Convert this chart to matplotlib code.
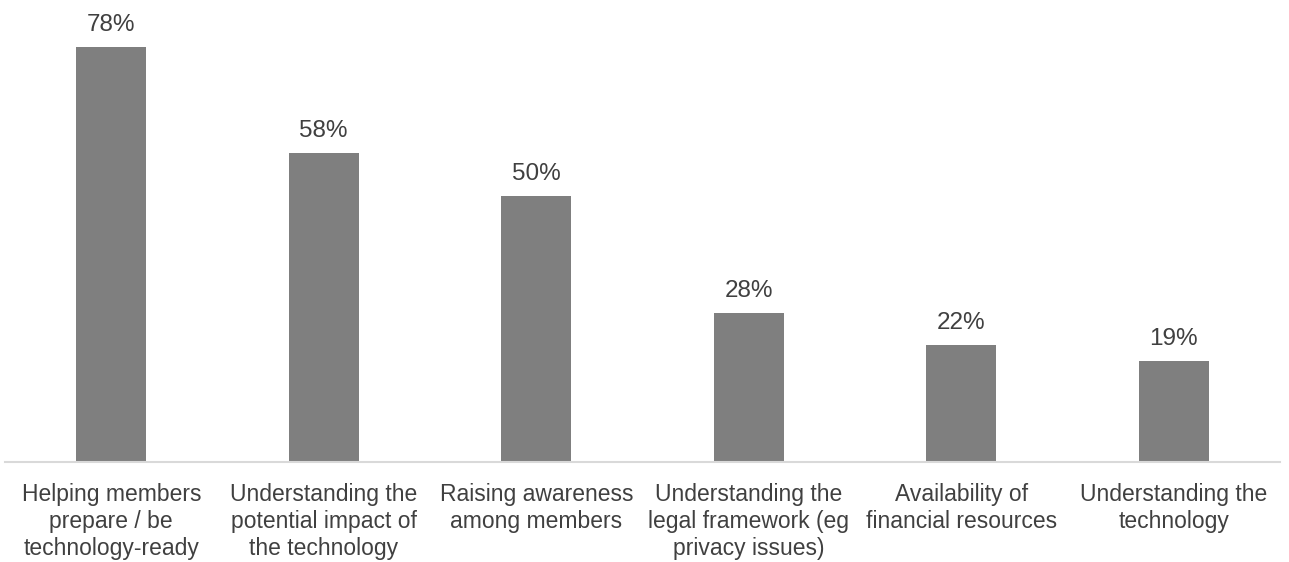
import matplotlib.pyplot as plt

categories = [
    "Helping members\nprepare / be\ntechnology-ready",
    "Understanding the\npotential impact of\nthe technology",
    "Raising awareness\namong members",
    "Understanding the\nlegal framework (eg\nprivacy issues)",
    "Availability of\nfinancial resources",
    "Understanding the\ntechnology",
]
values = [78, 58, 50, 28, 22, 19]

plt.rcParams['font.family'] = ['Liberation Sans', 'DejaVu Sans']

fig = plt.figure(figsize=(12.89, 5.62), dpi=100)
ax = fig.add_axes([5 / 1289, 1 - 462 / 562, 1275 / 1289, 462 / 562])

x = range(len(values))
bars = ax.bar(x, values, width=0.33, color='#7f7f7f')
for b, v in zip(bars, values):
    ax.annotate(f"{v}%", (b.get_x() + b.get_width() / 2, v), xytext=(0, 8),
                textcoords='offset points', ha='center', va='bottom',
                fontsize=17.5, color='#404040')

ax.set_xlim(-0.5, len(values) - 0.5)
ax.set_ylim(0, 86.8)
ax.set_xticks(list(x))
ax.set_xticklabels(categories, fontsize=16.5, color='#404040', linespacing=1.24)
ax.tick_params(axis='x', length=0, pad=15)
ax.set_yticks([])
for s in ['top', 'left', 'right']:
    ax.spines[s].set_visible(False)
ax.spines['bottom'].set_color('#d9d9d9')
ax.spines['bottom'].set_linewidth(1.5)

fig.savefig('out.png', dpi=100)
